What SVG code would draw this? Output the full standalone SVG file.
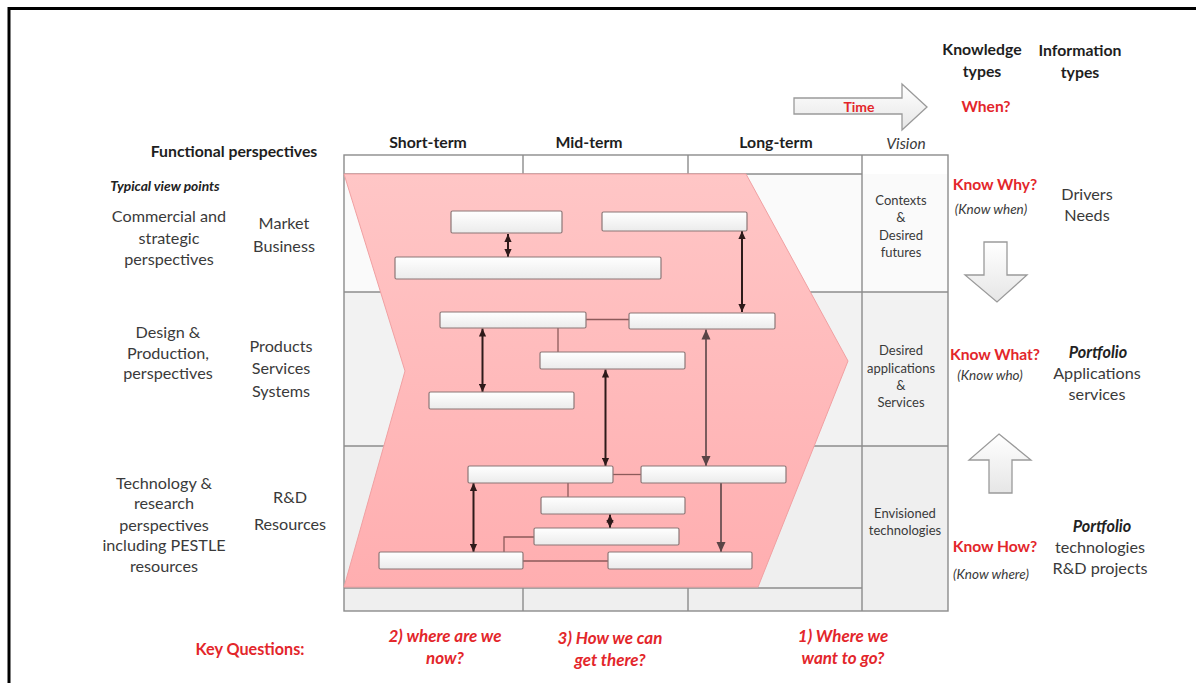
<svg xmlns="http://www.w3.org/2000/svg" width="1196" height="683" viewBox="0 0 1196 683">
<defs>
<linearGradient id="pinkG" x1="0" y1="0" x2="0" y2="1">
<stop offset="0" stop-color="#ffc6c6"/>
<stop offset="1" stop-color="#ffaeb0"/>
</linearGradient>
<linearGradient id="boxG" x1="0" y1="0" x2="0" y2="1">
<stop offset="0" stop-color="#ffffff"/>
<stop offset="1" stop-color="#ebebeb"/>
</linearGradient>
<linearGradient id="arrG" x1="0" y1="0" x2="0" y2="1">
<stop offset="0" stop-color="#ffffff"/>
<stop offset="1" stop-color="#e6e6e6"/>
</linearGradient>
<marker id="ah" viewBox="0 0 10 10" refX="10" refY="5" markerWidth="8" markerHeight="8" markerUnits="userSpaceOnUse" orient="auto-start-reverse">
<path d="M0,0.5 L10,5 L0,9.5 z" fill="#2e1a1a"/>
</marker>
<marker id="ahg" viewBox="0 0 10 10" refX="10" refY="5" markerWidth="10" markerHeight="10" markerUnits="userSpaceOnUse" orient="auto-start-reverse">
<path d="M0,0.5 L10,5 L0,9.5 z" fill="#5a4446"/>
</marker>
<style>
text{font-family:Lato,"Liberation Sans",Arial,sans-serif;fill:#3a3a3a;text-anchor:middle}
.h{font-weight:bold;font-size:15.8px;fill:#1e1e1e}
.t{font-size:16.2px}
.s{font-size:13px}
.r{fill:#e3262b;font-weight:bold;font-size:15.6px}
.ri{fill:#e3262b;font-weight:bold;font-style:italic;font-size:17px}
.i{font-style:italic;font-size:13.5px}
.bi{font-weight:bold;font-style:italic;font-size:16.2px;fill:#222}
.grid{fill:none;stroke:#8c8c8c;stroke-width:1.4}
.box{fill:url(#boxG);stroke:#8c7777;stroke-width:1.2}
.con{fill:none;stroke:#8c5a5a;stroke-width:1.3}
.arr{stroke:#2e1a1a;stroke-width:2;marker-start:url(#ah);marker-end:url(#ah)}
.arg{stroke:#5a4446;stroke-width:1.6}
.blk{fill:url(#arrG);stroke:#9a9a9a;stroke-width:1.3}
</style>
</defs>
<rect width="1196" height="683" fill="#ffffff"/>
<path d="M9,683 V8.5 H1196" fill="none" stroke="#000" stroke-width="3"/>

<g id="grid">
<rect x="344" y="155" width="604" height="19" fill="#ffffff"/>
<rect x="344" y="174" width="604" height="118" fill="#fafafa"/>
<rect x="344" y="292" width="604" height="154" fill="#f2f2f2"/>
<rect x="344" y="446" width="604" height="165" fill="#efefef"/>
<rect x="344" y="155" width="604" height="456" class="grid"/>
<line x1="862" y1="155" x2="862" y2="611" class="grid"/>
<line x1="344" y1="292" x2="948" y2="292" class="grid"/>
<line x1="344" y1="446" x2="948" y2="446" class="grid"/>
<line x1="344" y1="174" x2="862" y2="174" class="grid"/>
<line x1="344" y1="588" x2="862" y2="588" class="grid"/>
<line x1="523" y1="155" x2="523" y2="174" class="grid"/>
<line x1="688" y1="155" x2="688" y2="174" class="grid"/>
<line x1="523" y1="588" x2="523" y2="611" class="grid"/>
<line x1="688" y1="588" x2="688" y2="611" class="grid"/>
</g>

<g id="chevron">
<polygon points="344,174 746,174 848,361 758,587 344,587 405,371" fill="url(#pinkG)" stroke="#f0a0a2" stroke-width="1"/>
</g>

<g id="connectors">
<line x1="586" y1="319.5" x2="629" y2="319.5" class="con"/>
<line x1="558" y1="328" x2="558" y2="352" class="con"/>
<line x1="613" y1="474.5" x2="641" y2="474.5" class="con"/>
<line x1="568" y1="483" x2="568" y2="497" class="con"/>
<polyline points="534,537 504,537 504,552" class="con"/>
<line x1="523" y1="561" x2="608" y2="561" class="con"/>
<line x1="508" y1="234" x2="508" y2="257" class="arr"/>
<line x1="742" y1="231" x2="742" y2="312" class="arr"/>
<line x1="482.5" y1="328.5" x2="482.5" y2="392" class="arr"/>
<line x1="605.5" y1="369.5" x2="605.5" y2="466" class="arr"/>
<line x1="706" y1="329.5" x2="706" y2="466" class="arg" marker-start="url(#ahg)" marker-end="url(#ahg)"/>
<line x1="473.5" y1="483" x2="473.5" y2="552" class="arr"/>
<line x1="610" y1="514.5" x2="610" y2="528" class="arr"/>
<line x1="721" y1="483" x2="721" y2="552" class="arg" marker-end="url(#ahg)"/>
</g>

<g id="boxA"><rect x="451" y="211" width="111" height="22" rx="1.5" class="box"/></g>
<g id="boxB"><rect x="602" y="212" width="145" height="19" rx="1.5" class="box"/></g>
<g id="boxC"><rect x="395" y="257" width="266" height="22" rx="1.5" class="box"/></g>
<g id="boxE"><rect x="440" y="312" width="146" height="16" rx="1.5" class="box"/></g>
<g id="boxD"><rect x="629" y="313" width="146" height="16" rx="1.5" class="box"/></g>
<g id="boxF"><rect x="540" y="352" width="145" height="17" rx="1.5" class="box"/></g>
<g id="boxG"><rect x="429" y="392" width="145" height="17" rx="1.5" class="box"/></g>
<g id="boxH"><rect x="468" y="466" width="145" height="17" rx="1.5" class="box"/></g>
<g id="boxI"><rect x="641" y="466" width="145" height="17" rx="1.5" class="box"/></g>
<g id="boxJ"><rect x="541" y="497" width="144" height="17" rx="1.5" class="box"/></g>
<g id="boxK"><rect x="534" y="528" width="145" height="17" rx="1.5" class="box"/></g>
<g id="boxL"><rect x="379" y="552" width="144" height="17" rx="1.5" class="box"/></g>
<g id="boxM"><rect x="608" y="552" width="144" height="17" rx="1.5" class="box"/></g>

<g id="time-arrow">
<polygon points="794,98 902,98 902,84 927,107 902,130 902,114 794,114" class="blk"/>
<text x="859" y="112" class="r" style="font-size:14px">Time</text>
</g>
<g id="down-arrow">
<polygon points="984,242 1007,242 1007,275 1027,275 997,302 965,275 984,275" class="blk"/>
</g>
<g id="up-arrow">
<polygon points="999,434 1031,460 1012,460 1012,493 989,493 989,460 969,460" class="blk"/>
</g>

<g id="headers">
<text x="234" y="157" class="h">Functional perspectives</text>
<text x="428" y="148" class="h">Short-term</text>
<text x="589" y="148" class="h">Mid-term</text>
<text x="776" y="148" class="h">Long-term</text>
<text x="906" y="149" style="font-style:italic;font-size:15.5px">Vision</text>
<text x="982" y="55" class="h">Knowledge</text>
<text x="982" y="77" class="h">types</text>
<text x="1080" y="56" class="h">Information</text>
<text x="1080" y="78" class="h">types</text>
<text x="986" y="112" class="r">When?</text>
</g>

<g id="left-labels">
<text x="165" y="191" style="font-weight:bold;font-style:italic;font-size:13.8px;fill:#222">Typical view points</text>
<text x="169" y="222" class="t">Commercial and</text>
<text x="169" y="244" class="t">strategic</text>
<text x="169" y="265" class="t">perspectives</text>
<text x="284" y="229" class="t">Market</text>
<text x="284" y="252" class="t">Business</text>
<text x="168" y="338" class="t">Design &amp;</text>
<text x="168" y="359" class="t">Production,</text>
<text x="168" y="379" class="t">perspectives</text>
<text x="281" y="352" class="t">Products</text>
<text x="281" y="374" class="t">Services</text>
<text x="281" y="397" class="t">Systems</text>
<text x="164" y="489" class="t">Technology &amp;</text>
<text x="164" y="509" class="t">research</text>
<text x="164" y="531" class="t">perspectives</text>
<text x="164" y="551" class="t">including PESTLE</text>
<text x="164" y="572" class="t">resources</text>
<text x="290" y="503" class="t">R&amp;D</text>
<text x="290" y="530" class="t">Resources</text>
</g>

<g id="vision-labels">
<text x="901" y="204.5" class="s">Contexts</text>
<text x="901" y="222" class="s">&amp;</text>
<text x="901" y="239.5" class="s">Desired</text>
<text x="901" y="256.5" class="s">futures</text>
<text x="901" y="354.5" class="s">Desired</text>
<text x="901" y="372.5" class="s">applications</text>
<text x="901" y="389.5" class="s">&amp;</text>
<text x="901" y="406.5" class="s">Services</text>
<text x="905" y="517.5" class="s">Envisioned</text>
<text x="905" y="534.5" class="s">technologies</text>
</g>

<g id="right-labels">
<text x="995" y="190" class="r">Know Why?</text>
<text x="991" y="214" class="i">(Know when)</text>
<text x="1087" y="200" class="t">Drivers</text>
<text x="1087" y="221" class="t">Needs</text>
<text x="995" y="360" class="r">Know What?</text>
<text x="990" y="380" class="i">(Know who)</text>
<text x="1098" y="358" class="bi">Portfolio</text>
<text x="1097" y="379" class="t">Applications</text>
<text x="1097" y="400" class="t">services</text>
<text x="995" y="552" class="r">Know How?</text>
<text x="991" y="579" class="i">(Know where)</text>
<text x="1102" y="532" class="bi">Portfolio</text>
<text x="1100" y="553" class="t">technologies</text>
<text x="1100" y="574" class="t">R&amp;D projects</text>
</g>

<g id="questions">
<text x="250" y="655" class="r" style="font-size:16.2px">Key Questions:</text>
<text x="445" y="642" class="ri">2) where are we</text>
<text x="445" y="664" class="ri">now?</text>
<text x="610" y="644" class="ri">3) How we can</text>
<text x="610" y="666" class="ri">get there?</text>
<text x="843" y="642" class="ri">1) Where we</text>
<text x="843" y="664" class="ri">want to go?</text>
</g>
</svg>
